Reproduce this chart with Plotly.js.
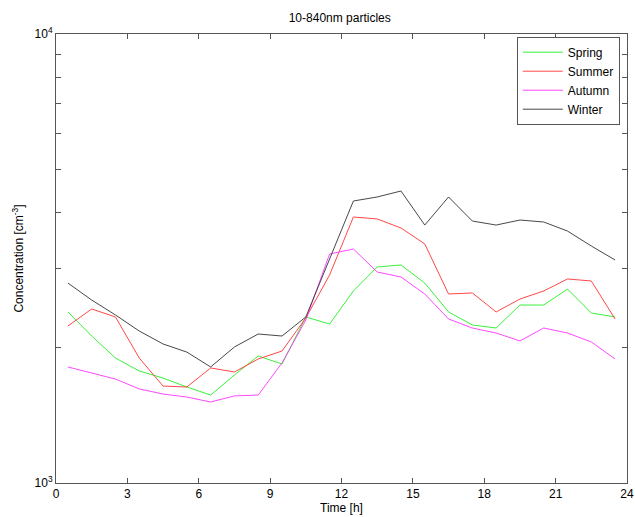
<!DOCTYPE html>
<html>
<head>
<script src="https://cdn.plot.ly/plotly-3.0.1.min.js"></script>
<style>html,body{margin:0;padding:0;background:#fff;}#chart{width:635px;height:517px;}</style>
</head>
<body>
<div id="chart"></div>
<script>
const hours = [0.5,1.5,2.5,3.5,4.5,5.5,6.5,7.5,8.5,9.5,10.5,11.5,12.5,13.5,14.5,15.5,16.5,17.5,18.5,19.5,20.5,21.5,22.5,23.5];
const spring = [2404,2125,1898,1776,1713,1636,1570,1740,1918,1841,2343,2260,2677,3028,3059,2788,2404,2249,2214,2491,2491,2704,2391,2343];
const summer = [2237,2441,2343,1898,1644,1636,1804,1767,1889,1968,2331,2906,3912,3873,3698,3407,2636,2650,2404,2569,2677,2847,2818,2319];
const autumn = [1813,1758,1704,1620,1578,1554,1515,1563,1570,1851,2307,3236,3320,2951,2876,2636,2319,2214,2158,2072,2214,2158,2061,1889];
const winter = [2788,2556,2367,2180,2040,1957,1813,2009,2147,2125,2343,3170,4247,4335,4470,3754,4335,3832,3754,3852,3813,3640,3372,3138];
const seriesNames = ['Spring','Summer','Autumn','Winter'];
const seriesColors = ['#22ee22','#ff3333','#ff33ff','#333333'];
const xTicks = [0,3,6,9,12,15,18,21,24];
const yTickVals = [1000,2000,3000,4000,5000,6000,7000,8000,9000,10000];
const yTickText = ['10<sup>3</sup>','','','','','','','','','10<sup>4</sup>'];

const data = [spring, summer, autumn, winter].map((ys, i) => ({
  x: hours, y: ys, type: 'scatter', mode: 'lines', name: seriesNames[i],
  line: {color: seriesColors[i], width: 0.9}
}));

const axisCommon = {
  showgrid: false, zeroline: false, showline: true, linecolor: '#555', linewidth: 1,
  mirror: 'ticks', ticks: 'inside', ticklen: 5, tickcolor: '#555',
  tickfont: {family: 'Liberation Sans, Arial', size: 12, color: '#000'}
};

const layout = {
  width: 635, height: 517,
  margin: {l: 56, r: 8, t: 34, b: 34},
  paper_bgcolor: '#fff', plot_bgcolor: '#fff',
  font: {family: 'Liberation Sans, Arial', size: 12, color: '#000'},
  title: {text: '10-840nm particles', x: 0.535, xanchor: 'center', y: 0.965, yanchor: 'middle', font: {size: 12}},
  xaxis: Object.assign({}, axisCommon, {
    range: [0, 24], tickvals: xTicks, ticktext: xTicks.map(String),
    title: {text: 'Time [h]', standoff: 3, font: {size: 12}}
  }),
  yaxis: Object.assign({}, axisCommon, {
    type: 'log', range: [3, 4], tickvals: yTickVals, ticktext: yTickText,
    title: {text: 'Concentration [cm<sup>-3</sup>]', standoff: 8, font: {size: 12}}
  }),
  legend: {
    x: 0.807, y: 0.994, xanchor: 'left', yanchor: 'top',
    bordercolor: '#555', borderwidth: 1, bgcolor: '#fff',
    font: {size: 12}, tracegroupgap: 0, itemwidth: 40
  },
  showlegend: true
};

Plotly.newPlot('chart', data, layout, {displayModeBar: false, staticPlot: true});
</script>
</body>
</html>
